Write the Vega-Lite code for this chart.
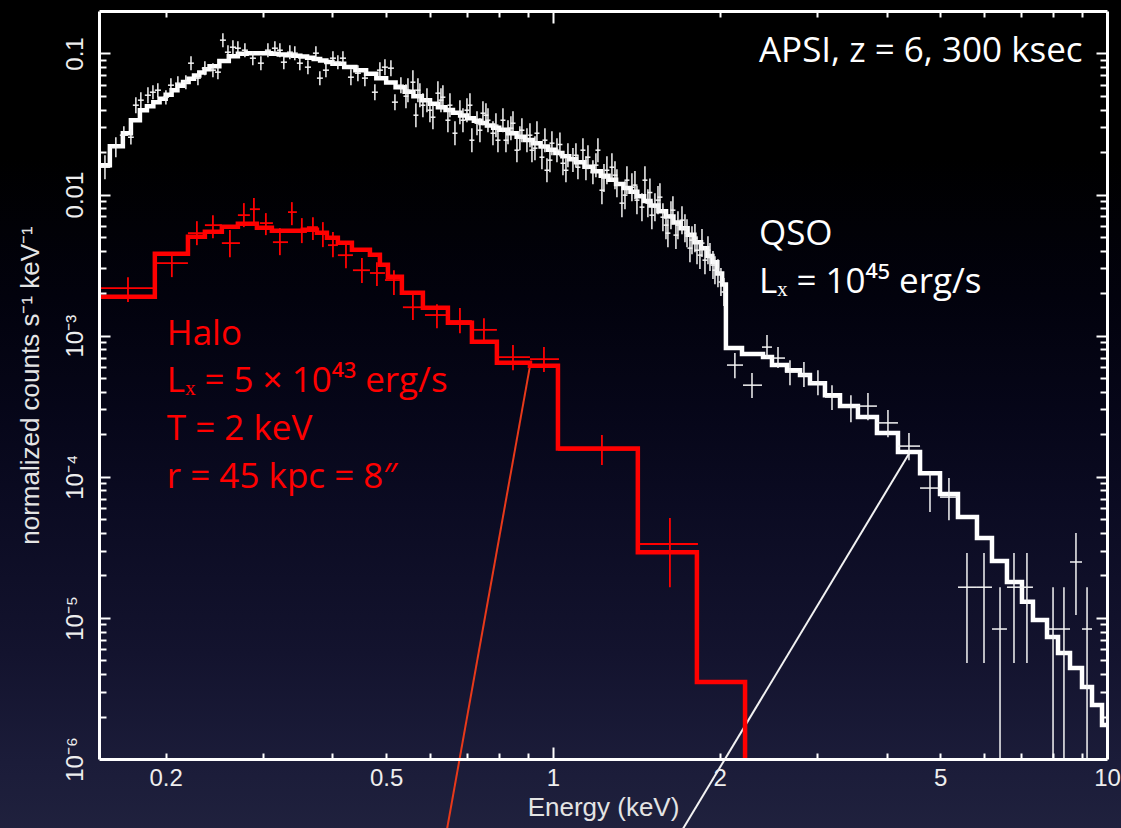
{
"$schema": "https://vega.github.io/schema/vega-lite/v6.json",
"width": 1008, "height": 748,
"autosize": {"type": "none"},
"padding": {"left": 99, "top": 11, "right": 14, "bottom": 69},
"background": "#000000",
"config": {
 "view": {"stroke": null},
 "axis": {"grid": false, "domainColor": "#ffffff", "tickColor": "#ffffff", "labelColor": "#eeeeee", "titleColor": "#e8e8e8", "labelFont": "Liberation Sans", "titleFont": "Liberation Sans", "titleFontWeight": "normal", "labelFontSize": 24, "titleFontSize": 26, "tickWidth": 2, "domainWidth": 3, "labelFlush": false, "labelOverlap": false}
},
"resolve": {"scale": {"x": "shared", "y": "shared"}, "axis": {"x": "independent", "y": "independent"}},
"datasets": {
 "pointers": [
  {"E": 0.9089, "C": 0.000609, "line": "halo"}, {"E": 0.6108, "C": 0.0000001, "line": "halo"},
  {"E": 4.41, "C": 0.00015, "line": "qso"}, {"E": 1.436, "C": 0.0000001, "line": "qso"}
 ],
 "halo_model": [
  {"E":0.15,"C":0.001888},{"E":0.1912,"C":0.003805},{"E":0.2194,"C":0.005018},{"E":0.2354,"C":0.005445},{"E":0.2526,"C":0.005908},{"E":0.27,"C":0.006202},{"E":0.2922,"C":0.005811},{"E":0.311,"C":0.005535},{"E":0.3537,"C":0.005626},{"E":0.375,"C":0.005358},{"E":0.3909,"C":0.004938},{"E":0.4091,"C":0.004552},{"E":0.4337,"C":0.004061},{"E":0.4674,"C":0.003743},{"E":0.4872,"C":0.00318},{"E":0.5037,"C":0.002616},{"E":0.5338,"C":0.002015},{"E":0.5825,"C":0.001578},{"E":0.6463,"C":0.001236},{"E":0.7141,"C":0.000907},{"E":0.7922,"C":0.000644},{"E":0.9089,"C":0.000613},{"E":1.021,"C":0.0001586},{"E":1.423,"C":0.00002917},{"E":1.819,"C":0.000003507},{"E":2.222,"C":0.0000001}
 ],
 "halo_data": [
  {"E":0.171,"C":0.00217,"Elo":0.15,"Ehi":0.1912,"Clo":0.00173,"Chi":0.0026},
  {"E":0.2052,"C":0.00327,"Elo":0.1912,"Ehi":0.2194,"Clo":0.0026,"Chi":0.00372},
  {"E":0.2277,"C":0.00533,"Elo":0.2194,"Ehi":0.2354,"Clo":0.00438,"Chi":0.00648},
  {"E":0.2434,"C":0.00607,"Elo":0.2354,"Ehi":0.2526,"Clo":0.00491,"Chi":0.00715},
  {"E":0.2612,"C":0.00453,"Elo":0.2526,"Ehi":0.2723,"Clo":0.0036,"Chi":0.0056},
  {"E":0.2768,"C":0.00715,"Elo":0.27,"Ehi":0.2838,"Clo":0.00588,"Chi":0.0087},
  {"E":0.2886,"C":0.00788,"Elo":0.2838,"Ehi":0.2959,"Clo":0.00628,"Chi":0.00944},
  {"E":0.3033,"C":0.00628,"Elo":0.2959,"Ehi":0.3123,"Clo":0.00516,"Chi":0.00739},
  {"E":0.3215,"C":0.0046,"Elo":0.3123,"Ehi":0.3325,"Clo":0.00372,"Chi":0.00578},
  {"E":0.3379,"C":0.00751,"Elo":0.3325,"Ehi":0.345,"Clo":0.00607,"Chi":0.00884},
  {"E":0.3522,"C":0.00542,"Elo":0.345,"Ehi":0.3597,"Clo":0.00453,"Chi":0.00681},
  {"E":0.3688,"C":0.00588,"Elo":0.3597,"Ehi":0.3765,"Clo":0.00476,"Chi":0.00692},
  {"E":0.3844,"C":0.00533,"Elo":0.3765,"Ehi":0.3926,"Clo":0.00424,"Chi":0.00638},
  {"E":0.4008,"C":0.00438,"Elo":0.3926,"Ehi":0.4091,"Clo":0.0036,"Chi":0.00542},
  {"E":0.4231,"C":0.00372,"Elo":0.4091,"Ehi":0.4355,"Clo":0.00301,"Chi":0.00453},
  {"E":0.4521,"C":0.00291,"Elo":0.4355,"Ehi":0.4674,"Clo":0.00236,"Chi":0.00355},
  {"E":0.4812,"C":0.00278,"Elo":0.4674,"Ehi":0.4975,"Clo":0.00225,"Chi":0.00332},
  {"E":0.5164,"C":0.00248,"Elo":0.4975,"Ehi":0.5338,"Clo":0.00194,"Chi":0.00291},
  {"E":0.5588,"C":0.00159,"Elo":0.536,"Ehi":0.5825,"Clo":0.00129,"Chi":0.00194},
  {"E":0.6175,"C":0.0014,"Elo":0.5875,"Ehi":0.6463,"Clo":0.00113,"Chi":0.00167},
  {"E":0.6794,"C":0.00127,"Elo":0.6463,"Ehi":0.714,"Clo":0.00104,"Chi":0.00157},
  {"E":0.7507,"C":0.0011,"Elo":0.714,"Ehi":0.7922,"Clo":0.000886,"Chi":0.00133},
  {"E":0.847,"C":0.000705,"Elo":0.7922,"Ehi":0.9089,"Clo":0.00057,"Chi":0.000858},
  {"E":0.9633,"C":0.000682,"Elo":0.9089,"Ehi":1.0253,"Clo":0.000552,"Chi":0.00083},
  {"E":1.2258,"C":0.000155,"Elo":1.021,"Ehi":1.424,"Clo":0.000121,"Chi":0.000198},
  {"E":1.626,"C":0.0000334,"Elo":1.436,"Ehi":1.827,"Clo":0.0000165,"Chi":0.000051}
 ],
 "qso_model": [
  {"E":0.15,"C":0.01617},{"E":0.1586,"C":0.02204},{"E":0.1674,"C":0.02725},{"E":0.1731,"C":0.03368},{"E":0.1797,"C":0.03966},{"E":0.185,"C":0.04232},{"E":0.19,"C":0.04519},{"E":0.195,"C":0.04784},{"E":0.2,"C":0.05106},{"E":0.205,"C":0.05495},{"E":0.21,"C":0.05911},{"E":0.215,"C":0.06291},{"E":0.22,"C":0.06631},{"E":0.225,"C":0.06984},{"E":0.23,"C":0.07345},{"E":0.235,"C":0.07739},{"E":0.24,"C":0.08128},{"E":0.25,"C":0.0885},{"E":0.26,"C":0.09569},{"E":0.27,"C":0.09968},{"E":0.28,"C":0.1005},{"E":0.29,"C":0.1005},{"E":0.3,"C":0.1005},{"E":0.31,"C":0.09968},{"E":0.32,"C":0.09838},{"E":0.33,"C":0.09727},{"E":0.34,"C":0.09632},{"E":0.35,"C":0.09507},{"E":0.36,"C":0.09322},{"E":0.37,"C":0.09142},{"E":0.38,"C":0.0892},{"E":0.39,"C":0.08692},{"E":0.4,"C":0.08465},{"E":0.42,"C":0.0801},{"E":0.44,"C":0.07591},{"E":0.46,"C":0.07193},{"E":0.48,"C":0.06683},{"E":0.5,"C":0.06219},{"E":0.52,"C":0.0577},{"E":0.54,"C":0.05354},{"E":0.56,"C":0.04966},{"E":0.58,"C":0.0466},{"E":0.6,"C":0.04395},{"E":0.62,"C":0.04164},{"E":0.64,"C":0.03978},{"E":0.66,"C":0.038},{"E":0.68,"C":0.03631},{"E":0.7,"C":0.03479},{"E":0.72,"C":0.03341},{"E":0.74,"C":0.03212},{"E":0.76,"C":0.03089},{"E":0.78,"C":0.0298},{"E":0.8,"C":0.02875},{"E":0.83,"C":0.02716},{"E":0.86,"C":0.0257},{"E":0.89,"C":0.02438},{"E":0.92,"C":0.02314},{"E":0.95,"C":0.02189},{"E":0.98,"C":0.02075},{"E":1.01,"C":0.01969},{"E":1.04,"C":0.01873},{"E":1.07,"C":0.01777},{"E":1.1,"C":0.01692},{"E":1.14,"C":0.01572},{"E":1.18,"C":0.01466},{"E":1.22,"C":0.01362},{"E":1.26,"C":0.01272},{"E":1.3,"C":0.01189},{"E":1.34,"C":0.01114},{"E":1.38,"C":0.01047},{"E":1.42,"C":0.009749},{"E":1.46,"C":0.009014},{"E":1.5,"C":0.008361},{"E":1.55,"C":0.007633},{"E":1.6,"C":0.00699},{"E":1.65,"C":0.006347},{"E":1.7,"C":0.005765},{"E":1.75,"C":0.005193},{"E":1.8,"C":0.004603},{"E":1.85,"C":0.00416},{"E":1.9,"C":0.003675},{"E":1.94,"C":0.003321},{"E":1.98,"C":0.002754},{"E":2.02,"C":0.002301},{"E":2.052,"C":0.000817},{"E":2.194,"C":0.000741},{"E":2.394,"C":0.000705},{"E":2.485,"C":0.000619},{"E":2.645,"C":0.00057},{"E":2.792,"C":0.000526},{"E":2.91,"C":0.000461},{"E":3.097,"C":0.000379},{"E":3.297,"C":0.000317},{"E":3.552,"C":0.000265},{"E":3.844,"C":0.000204},{"E":4.195,"C":0.00015},{"E":4.598,"C":0.000106},{"E":4.996,"C":0.0000754},{"E":5.383,"C":0.0000518},{"E":5.825,"C":0.0000368},{"E":6.2,"C":0.0000253},{"E":6.598,"C":0.000018},{"E":7.023,"C":0.000013},{"E":7.351,"C":0.00000966},{"E":7.793,"C":0.00000732},{"E":8.158,"C":0.00000564},{"E":8.575,"C":0.00000441},{"E":9.013,"C":0.00000324},{"E":9.396,"C":0.00000241},{"E":9.795,"C":0.00000174},{"E":10,"C":0.00000174}
 ],
 "qso_data": [
  {"E":0.1554,"C":0.01563,"Elo":0.1516,"Ehi":0.1589,"Clo":0.01285,"Chi":0.01901},
  {"E":0.1626,"C":0.02166,"Elo":0.1593,"Ehi":0.166,"Clo":0.0184,"Chi":0.0255},
  {"E":0.1681,"C":0.02635,"Elo":0.1653,"Ehi":0.171,"Clo":0.02275,"Chi":0.03053},
  {"E":0.1731,"C":0.0255,"Elo":0.171,"Ehi":0.1752,"Clo":0.02264,"Chi":0.02906},
  {"E":0.1767,"C":0.043,"Elo":0.1745,"Ehi":0.1789,"Clo":0.03774,"Chi":0.049},
  {"E":0.1804,"C":0.04667,"Elo":0.1782,"Ehi":0.1826,"Clo":0.04094,"Chi":0.05316},
  {"E":0.1858,"C":0.05062,"Elo":0.1834,"Ehi":0.1881,"Clo":0.04443,"Chi":0.05768},
  {"E":0.1897,"C":0.05316,"Elo":0.1873,"Ehi":0.192,"Clo":0.04742,"Chi":0.0596},
  {"E":0.1936,"C":0.05493,"Elo":0.1912,"Ehi":0.1961,"Clo":0.049,"Chi":0.06158},
  {"E":0.2002,"C":0.049,"Elo":0.1977,"Ehi":0.2027,"Clo":0.0435,"Chi":0.05493},
  {"E":0.2044,"C":0.0596,"Elo":0.2019,"Ehi":0.207,"Clo":0.05316,"Chi":0.06688},
  {"E":0.2104,"C":0.06158,"Elo":0.2079,"Ehi":0.213,"Clo":0.05493,"Chi":0.06903},
  {"E":0.2175,"C":0.06259,"Elo":0.2148,"Ehi":0.2203,"Clo":0.05585,"Chi":0.07017},
  {"E":0.2222,"C":0.08536,"Elo":0.2195,"Ehi":0.2249,"Clo":0.07616,"Chi":0.09569},
  {"E":0.2287,"C":0.06688,"Elo":0.2258,"Ehi":0.2315,"Clo":0.0596,"Chi":0.07491},
  {"E":0.2354,"C":0.07869,"Elo":0.2324,"Ehi":0.2384,"Clo":0.07017,"Chi":0.08819},
  {"E":0.2434,"C":0.07616,"Elo":0.2404,"Ehi":0.2465,"Clo":0.06793,"Chi":0.08536},
  {"E":0.2485,"C":0.07374,"Elo":0.2455,"Ehi":0.2516,"Clo":0.06574,"Chi":0.08262},
  {"E":0.2537,"C":0.1243,"Elo":0.2506,"Ehi":0.2569,"Clo":0.1108,"Chi":0.1393},
  {"E":0.2591,"C":0.1021,"Elo":0.2558,"Ehi":0.2623,"Clo":0.09112,"Chi":0.1145},
  {"E":0.2645,"C":0.1108,"Elo":0.2612,"Ehi":0.2678,"Clo":0.09886,"Chi":0.1243},
  {"E":0.27,"C":0.109,"Elo":0.2667,"Ehi":0.2734,"Clo":0.09727,"Chi":0.1222},
  {"E":0.278,"C":0.1055,"Elo":0.2745,"Ehi":0.2815,"Clo":0.09414,"Chi":0.1183},
  {"E":0.2873,"C":0.09262,"Elo":0.2838,"Ehi":0.291,"Clo":0.08262,"Chi":0.1038},
  {"E":0.2971,"C":0.08536,"Elo":0.2934,"Ehi":0.3008,"Clo":0.07616,"Chi":0.09569},
  {"E":0.3059,"C":0.1055,"Elo":0.3021,"Ehi":0.3097,"Clo":0.09414,"Chi":0.1183},
  {"E":0.3149,"C":0.109,"Elo":0.311,"Ehi":0.3188,"Clo":0.09727,"Chi":0.1222},
  {"E":0.3215,"C":0.1055,"Elo":0.3176,"Ehi":0.3255,"Clo":0.09414,"Chi":0.1183},
  {"E":0.3268,"C":0.08677,"Elo":0.3228,"Ehi":0.3311,"Clo":0.07741,"Chi":0.09727},
  {"E":0.3351,"C":0.1021,"Elo":0.3311,"Ehi":0.3393,"Clo":0.09112,"Chi":0.1145},
  {"E":0.3421,"C":0.1005,"Elo":0.3379,"Ehi":0.3464,"Clo":0.08964,"Chi":0.1127},
  {"E":0.3493,"C":0.08536,"Elo":0.345,"Ehi":0.3538,"Clo":0.07616,"Chi":0.09569},
  {"E":0.3612,"C":0.07999,"Elo":0.3567,"Ehi":0.3658,"Clo":0.07132,"Chi":0.08964},
  {"E":0.3734,"C":0.1005,"Elo":0.3688,"Ehi":0.3781,"Clo":0.08964,"Chi":0.1127},
  {"E":0.3796,"C":0.06688,"Elo":0.375,"Ehi":0.3844,"Clo":0.0596,"Chi":0.07491},
  {"E":0.3893,"C":0.07616,"Elo":0.3844,"Ehi":0.3942,"Clo":0.06793,"Chi":0.08536},
  {"E":0.4008,"C":0.09262,"Elo":0.3958,"Ehi":0.4058,"Clo":0.08262,"Chi":0.1038},
  {"E":0.4091,"C":0.08677,"Elo":0.4041,"Ehi":0.4143,"Clo":0.07741,"Chi":0.09727},
  {"E":0.4178,"C":0.09262,"Elo":0.4126,"Ehi":0.4231,"Clo":0.08262,"Chi":0.1038},
  {"E":0.4319,"C":0.06793,"Elo":0.4266,"Ehi":0.4373,"Clo":0.0596,"Chi":0.07741},
  {"E":0.4446,"C":0.07254,"Elo":0.4391,"Ehi":0.4502,"Clo":0.06363,"Chi":0.08262},
  {"E":0.4577,"C":0.06688,"Elo":0.4521,"Ehi":0.4636,"Clo":0.05866,"Chi":0.07616},
  {"E":0.4771,"C":0.05316,"Elo":0.4712,"Ehi":0.4831,"Clo":0.04667,"Chi":0.06058},
  {"E":0.4872,"C":0.07616,"Elo":0.4812,"Ehi":0.4933,"Clo":0.06688,"Chi":0.08677},
  {"E":0.4975,"C":0.07999,"Elo":0.4913,"Ehi":0.5036,"Clo":0.07017,"Chi":0.09112},
  {"E":0.51,"C":0.07869,"Elo":0.5036,"Ehi":0.5164,"Clo":0.06903,"Chi":0.08964},
  {"E":0.5186,"C":0.04519,"Elo":0.5121,"Ehi":0.5251,"Clo":0.03964,"Chi":0.05149},
  {"E":0.5316,"C":0.0596,"Elo":0.5251,"Ehi":0.5383,"Clo":0.05233,"Chi":0.06793},
  {"E":0.5429,"C":0.04982,"Elo":0.5373,"Ehi":0.5486,"Clo":0.04096,"Chi":0.0606},
  {"E":0.5474,"C":0.05493,"Elo":0.5418,"Ehi":0.5531,"Clo":0.04516,"Chi":0.06682},
  {"E":0.5588,"C":0.06259,"Elo":0.553,"Ehi":0.5647,"Clo":0.05146,"Chi":0.07613},
  {"E":0.5658,"C":0.03652,"Elo":0.56,"Ehi":0.5717,"Clo":0.03002,"Chi":0.04442},
  {"E":0.5706,"C":0.05493,"Elo":0.5647,"Ehi":0.5766,"Clo":0.04516,"Chi":0.06682},
  {"E":0.5753,"C":0.05062,"Elo":0.5694,"Ehi":0.5813,"Clo":0.04161,"Chi":0.06157},
  {"E":0.5825,"C":0.043,"Elo":0.5765,"Ehi":0.5886,"Clo":0.03535,"Chi":0.0523},
  {"E":0.5924,"C":0.04667,"Elo":0.5863,"Ehi":0.5986,"Clo":0.03837,"Chi":0.05677},
  {"E":0.5998,"C":0.03964,"Elo":0.5936,"Ehi":0.6061,"Clo":0.03259,"Chi":0.04822},
  {"E":0.6073,"C":0.03535,"Elo":0.601,"Ehi":0.6137,"Clo":0.02906,"Chi":0.043},
  {"E":0.62,"C":0.05233,"Elo":0.6136,"Ehi":0.6265,"Clo":0.04302,"Chi":0.06365},
  {"E":0.6279,"C":0.04667,"Elo":0.6214,"Ehi":0.6345,"Clo":0.03837,"Chi":0.05677},
  {"E":0.633,"C":0.049,"Elo":0.6265,"Ehi":0.6396,"Clo":0.04028,"Chi":0.0596},
  {"E":0.6463,"C":0.03366,"Elo":0.6396,"Ehi":0.6531,"Clo":0.02767,"Chi":0.04094},
  {"E":0.6518,"C":0.043,"Elo":0.6451,"Ehi":0.6586,"Clo":0.03535,"Chi":0.0523},
  {"E":0.6655,"C":0.02722,"Elo":0.6586,"Ehi":0.6725,"Clo":0.02238,"Chi":0.03311},
  {"E":0.6794,"C":0.03837,"Elo":0.6724,"Ehi":0.6865,"Clo":0.03154,"Chi":0.04667},
  {"E":0.688,"C":0.03366,"Elo":0.6809,"Ehi":0.6952,"Clo":0.02767,"Chi":0.04094},
  {"E":0.6995,"C":0.03964,"Elo":0.6923,"Ehi":0.7068,"Clo":0.03259,"Chi":0.04822},
  {"E":0.7083,"C":0.043,"Elo":0.701,"Ehi":0.7157,"Clo":0.03535,"Chi":0.0523},
  {"E":0.714,"C":0.02429,"Elo":0.7066,"Ehi":0.7215,"Clo":0.01997,"Chi":0.02955},
  {"E":0.7293,"C":0.03205,"Elo":0.7218,"Ehi":0.737,"Clo":0.02635,"Chi":0.03899},
  {"E":0.7383,"C":0.02859,"Elo":0.7307,"Ehi":0.746,"Clo":0.0235,"Chi":0.03478},
  {"E":0.7476,"C":0.03774,"Elo":0.7399,"Ehi":0.7554,"Clo":0.03103,"Chi":0.04591},
  {"E":0.757,"C":0.03652,"Elo":0.7492,"Ehi":0.7649,"Clo":0.03002,"Chi":0.04442},
  {"E":0.7634,"C":0.03366,"Elo":0.7555,"Ehi":0.7714,"Clo":0.02767,"Chi":0.04094},
  {"E":0.7794,"C":0.02722,"Elo":0.7714,"Ehi":0.7876,"Clo":0.02238,"Chi":0.03311},
  {"E":0.7891,"C":0.03105,"Elo":0.781,"Ehi":0.7974,"Clo":0.02553,"Chi":0.03777},
  {"E":0.7957,"C":0.02429,"Elo":0.7875,"Ehi":0.8041,"Clo":0.01997,"Chi":0.02955},
  {"E":0.8124,"C":0.03366,"Elo":0.804,"Ehi":0.8209,"Clo":0.02767,"Chi":0.04094},
  {"E":0.8226,"C":0.02429,"Elo":0.8141,"Ehi":0.8312,"Clo":0.01997,"Chi":0.02955},
  {"E":0.8296,"C":0.02766,"Elo":0.8211,"Ehi":0.8383,"Clo":0.02274,"Chi":0.03365},
  {"E":0.8398,"C":0.02956,"Elo":0.8311,"Ehi":0.8486,"Clo":0.0243,"Chi":0.03596},
  {"E":0.847,"C":0.03205,"Elo":0.8383,"Ehi":0.8559,"Clo":0.02635,"Chi":0.03899},
  {"E":0.861,"C":0.02064,"Elo":0.8521,"Ehi":0.87,"Clo":0.01697,"Chi":0.02511},
  {"E":0.8717,"C":0.02511,"Elo":0.8627,"Ehi":0.8808,"Clo":0.02064,"Chi":0.03054},
  {"E":0.879,"C":0.02859,"Elo":0.8699,"Ehi":0.8882,"Clo":0.0235,"Chi":0.03478},
  {"E":0.8976,"C":0.02429,"Elo":0.8883,"Ehi":0.907,"Clo":0.01997,"Chi":0.02955},
  {"E":0.9089,"C":0.02635,"Elo":0.8995,"Ehi":0.9184,"Clo":0.02166,"Chi":0.03205},
  {"E":0.9165,"C":0.02064,"Elo":0.9071,"Ehi":0.9261,"Clo":0.01697,"Chi":0.02511},
  {"E":0.928,"C":0.02133,"Elo":0.9184,"Ehi":0.9377,"Clo":0.01754,"Chi":0.02595},
  {"E":0.9357,"C":0.02722,"Elo":0.9261,"Ehi":0.9455,"Clo":0.02238,"Chi":0.03311},
  {"E":0.9553,"C":0.0184,"Elo":0.9454,"Ehi":0.9653,"Clo":0.01513,"Chi":0.02238},
  {"E":0.9673,"C":0.02429,"Elo":0.9573,"Ehi":0.9775,"Clo":0.01997,"Chi":0.02955},
  {"E":0.9754,"C":0.01488,"Elo":0.9653,"Ehi":0.9856,"Clo":0.01223,"Chi":0.0181},
  {"E":0.9876,"C":0.01754,"Elo":0.9774,"Ehi":0.998,"Clo":0.01442,"Chi":0.02134},
  {"E":0.9958,"C":0.02314,"Elo":0.9855,"Ehi":1.0063,"Clo":0.01902,"Chi":0.02815},
  {"E":1.0168,"C":0.02064,"Elo":1.0063,"Ehi":1.0275,"Clo":0.01697,"Chi":0.02511},
  {"E":1.0295,"C":0.02264,"Elo":1.0189,"Ehi":1.0403,"Clo":0.01861,"Chi":0.02754},
  {"E":1.0425,"C":0.01668,"Elo":1.0317,"Ehi":1.0534,"Clo":0.01371,"Chi":0.02029},
  {"E":1.0555,"C":0.01488,"Elo":1.0446,"Ehi":1.0666,"Clo":0.01223,"Chi":0.0181},
  {"E":1.0643,"C":0.01901,"Elo":1.0533,"Ehi":1.0755,"Clo":0.01563,"Chi":0.02312},
  {"E":1.0867,"C":0.01755,"Elo":1.0755,"Ehi":1.0981,"Clo":0.01443,"Chi":0.02135},
  {"E":1.1003,"C":0.01901,"Elo":1.089,"Ehi":1.1119,"Clo":0.01563,"Chi":0.02312},
  {"E":1.1095,"C":0.01563,"Elo":1.0981,"Ehi":1.1211,"Clo":0.01285,"Chi":0.01901},
  {"E":1.1328,"C":0.02064,"Elo":1.1211,"Ehi":1.1447,"Clo":0.01697,"Chi":0.02511},
  {"E":1.147,"C":0.0154,"Elo":1.1352,"Ehi":1.159,"Clo":0.01266,"Chi":0.01873},
  {"E":1.1566,"C":0.0184,"Elo":1.1447,"Ehi":1.1687,"Clo":0.01513,"Chi":0.02238},
  {"E":1.1808,"C":0.01441,"Elo":1.1686,"Ehi":1.1932,"Clo":0.01185,"Chi":0.01753},
  {"E":1.1956,"C":0.01616,"Elo":1.1833,"Ehi":1.2082,"Clo":0.01328,"Chi":0.01966},
  {"E":1.2056,"C":0.02064,"Elo":1.1932,"Ehi":1.2183,"Clo":0.01697,"Chi":0.02511},
  {"E":1.2258,"C":0.01074,"Elo":1.2132,"Ehi":1.2387,"Clo":0.008546,"Chi":0.0135},
  {"E":1.2362,"C":0.01308,"Elo":1.2235,"Ehi":1.2492,"Clo":0.01041,"Chi":0.01644},
  {"E":1.2515,"C":0.01488,"Elo":1.2386,"Ehi":1.2646,"Clo":0.01184,"Chi":0.0187},
  {"E":1.2778,"C":0.01563,"Elo":1.2646,"Ehi":1.2912,"Clo":0.01244,"Chi":0.01964},
  {"E":1.2941,"C":0.01373,"Elo":1.2808,"Ehi":1.3077,"Clo":0.01092,"Chi":0.01726},
  {"E":1.3046,"C":0.01201,"Elo":1.2912,"Ehi":1.3183,"Clo":0.009556,"Chi":0.01509},
  {"E":1.332,"C":0.008697,"Elo":1.3183,"Ehi":1.346,"Clo":0.00692,"Chi":0.01093},
  {"E":1.349,"C":0.009909,"Elo":1.3351,"Ehi":1.3632,"Clo":0.007885,"Chi":0.01245},
  {"E":1.36,"C":0.01265,"Elo":1.346,"Ehi":1.3743,"Clo":0.01007,"Chi":0.0159},
  {"E":1.3886,"C":0.01128,"Elo":1.3743,"Ehi":1.4032,"Clo":0.008976,"Chi":0.01418},
  {"E":1.4061,"C":0.01167,"Elo":1.3916,"Ehi":1.4209,"Clo":0.009286,"Chi":0.01467},
  {"E":1.4178,"C":0.009133,"Elo":1.4032,"Ehi":1.4327,"Clo":0.007267,"Chi":0.01148},
  {"E":1.4476,"C":0.008147,"Elo":1.4327,"Ehi":1.4628,"Clo":0.006483,"Chi":0.01024},
  {"E":1.4657,"C":0.01265,"Elo":1.4506,"Ehi":1.4811,"Clo":0.01007,"Chi":0.0159},
  {"E":1.4838,"C":0.008697,"Elo":1.4685,"Ehi":1.4994,"Clo":0.00692,"Chi":0.01093},
  {"E":1.4964,"C":0.01034,"Elo":1.481,"Ehi":1.5121,"Clo":0.008228,"Chi":0.013},
  {"E":1.5086,"C":0.007147,"Elo":1.4931,"Ehi":1.5244,"Clo":0.005687,"Chi":0.008982},
  {"E":1.5279,"C":0.008147,"Elo":1.5121,"Ehi":1.5439,"Clo":0.006483,"Chi":0.01024},
  {"E":1.5473,"C":0.009133,"Elo":1.5314,"Ehi":1.5635,"Clo":0.007267,"Chi":0.01148},
  {"E":1.56,"C":0.009591,"Elo":1.5439,"Ehi":1.5764,"Clo":0.007632,"Chi":0.01205},
  {"E":1.5795,"C":0.006919,"Elo":1.5632,"Ehi":1.5961,"Clo":0.005506,"Chi":0.008696},
  {"E":1.5996,"C":0.006074,"Elo":1.5831,"Ehi":1.6164,"Clo":0.004833,"Chi":0.007634},
  {"E":1.6126,"C":0.00533,"Elo":1.596,"Ehi":1.6295,"Clo":0.004241,"Chi":0.006699},
  {"E":1.6331,"C":0.007147,"Elo":1.6163,"Ehi":1.6502,"Clo":0.005687,"Chi":0.008982},
  {"E":1.6465,"C":0.007757,"Elo":1.6295,"Ehi":1.6638,"Clo":0.006172,"Chi":0.009749},
  {"E":1.6672,"C":0.005161,"Elo":1.65,"Ehi":1.6847,"Clo":0.004107,"Chi":0.006486},
  {"E":1.6812,"C":0.006074,"Elo":1.6639,"Ehi":1.6989,"Clo":0.004833,"Chi":0.007634},
  {"E":1.7096,"C":0.006589,"Elo":1.692,"Ehi":1.7275,"Clo":0.005243,"Chi":0.008281},
  {"E":1.7309,"C":0.005784,"Elo":1.7131,"Ehi":1.7491,"Clo":0.004602,"Chi":0.007269},
  {"E":1.7456,"C":0.00533,"Elo":1.7276,"Ehi":1.7639,"Clo":0.004241,"Chi":0.006699},
  {"E":1.7672,"C":0.004174,"Elo":1.749,"Ehi":1.7858,"Clo":0.003321,"Chi":0.005246},
  {"E":1.7822,"C":0.004753,"Elo":1.7638,"Ehi":1.8009,"Clo":0.003782,"Chi":0.005974},
  {"E":1.8042,"C":0.004913,"Elo":1.7856,"Ehi":1.8231,"Clo":0.003909,"Chi":0.006175},
  {"E":1.8197,"C":0.004036,"Elo":1.801,"Ehi":1.8388,"Clo":0.003211,"Chi":0.005072},
  {"E":1.8421,"C":0.003724,"Elo":1.8231,"Ehi":1.8614,"Clo":0.002963,"Chi":0.00468},
  {"E":1.8578,"C":0.00453,"Elo":1.8387,"Ehi":1.8773,"Clo":0.003605,"Chi":0.005693},
  {"E":1.881,"C":0.00343,"Elo":1.8616,"Ehi":1.9007,"Clo":0.002729,"Chi":0.004311},
  {"E":1.9045,"C":0.004036,"Elo":1.8849,"Ehi":1.9245,"Clo":0.003211,"Chi":0.005072},
  {"E":1.9205,"C":0.003604,"Elo":1.9007,"Ehi":1.9407,"Clo":0.002868,"Chi":0.00453},
  {"E":1.9446,"C":0.003163,"Elo":1.9245,"Ehi":1.965,"Clo":0.002517,"Chi":0.003975},
  {"E":1.9607,"C":0.002912,"Elo":1.9405,"Ehi":1.9813,"Clo":0.002317,"Chi":0.00366},
  {"E":1.9853,"C":0.002774,"Elo":1.9649,"Ehi":2.0061,"Clo":0.002207,"Chi":0.003486},
  {"E":2.0101,"C":0.002401,"Elo":1.9894,"Ehi":2.0312,"Clo":0.00191,"Chi":0.003018},
  {"E":2.0352,"C":0.00204,"Elo":2.0142,"Ehi":2.0566,"Clo":0.001623,"Chi":0.002564},
  {"E":2.13,"C":0.000619,"Elo":2.061,"Ehi":2.203,"Clo":0.0005,"Chi":0.000753},
  {"E":2.287,"C":0.000446,"Elo":2.203,"Ehi":2.384,"Clo":0.000362,"Chi":0.000543},
  {"E":2.434,"C":0.00083,"Elo":2.384,"Ehi":2.485,"Clo":0.000694,"Chi":0.00101},
  {"E":2.548,"C":0.000694,"Elo":2.485,"Ehi":2.623,"Clo":0.000589,"Chi":0.00083},
  {"E":2.678,"C":0.000552,"Elo":2.623,"Ehi":2.792,"Clo":0.000446,"Chi":0.000671},
  {"E":2.838,"C":0.000526,"Elo":2.792,"Ehi":2.91,"Clo":0.000432,"Chi":0.00065},
  {"E":3.008,"C":0.000469,"Elo":2.91,"Ehi":3.097,"Clo":0.000379,"Chi":0.00057},
  {"E":3.189,"C":0.000367,"Elo":3.097,"Ehi":3.297,"Clo":0.000297,"Chi":0.000446},
  {"E":3.45,"C":0.000312,"Elo":3.297,"Ehi":3.552,"Clo":0.000244,"Chi":0.000379},
  {"E":3.703,"C":0.000317,"Elo":3.552,"Ehi":3.844,"Clo":0.000252,"Chi":0.000392},
  {"E":4.024,"C":0.000241,"Elo":3.844,"Ehi":4.195,"Clo":0.000191,"Chi":0.000297},
  {"E":4.391,"C":0.000165,"Elo":4.195,"Ehi":4.598,"Clo":0.000131,"Chi":0.000204},
  {"E":4.792,"C":0.0000832,"Elo":4.598,"Ehi":4.996,"Clo":0.0000563,"Chi":0.000106},
  {"E":5.185,"C":0.0000718,"Elo":4.996,"Ehi":5.383,"Clo":0.0000493,"Chi":0.0000979},
  {"E":5.588,"C":0.0000165,"Elo":5.383,"Ehi":5.825,"Clo":0.00000479,"Chi":0.0000288},
  {"E":5.998,"C":0.0000165,"Elo":5.825,"Ehi":6.2,"Clo":0.00000479,"Chi":0.0000288},
  {"E":6.411,"C":0.00000834,"Elo":6.2,"Ehi":6.598,"Clo":0.0000001,"Chi":0.0000165},
  {"E":6.794,"C":0.0000165,"Elo":6.598,"Ehi":7.023,"Clo":0.00000479,"Chi":0.0000288},
  {"E":7.17,"C":0.0000165,"Elo":7.023,"Ehi":7.351,"Clo":0.00000479,"Chi":0.0000288},
  {"E":7.991,"C":0.00000834,"Elo":7.793,"Ehi":8.158,"Clo":0.0000001,"Chi":0.0000165},
  {"E":8.362,"C":0.00000834,"Elo":8.158,"Ehi":8.575,"Clo":0.0000001,"Chi":0.0000165},
  {"E":8.79,"C":0.0000249,"Elo":8.575,"Ehi":9.013,"Clo":0.0000105,"Chi":0.0000399},
  {"E":9.204,"C":0.00000834,"Elo":9.013,"Ehi":9.396,"Clo":0.0000001,"Chi":0.0000165}
 ]
},
"layer": [
 {"data": {"values": [{}]},
  "mark": {"type": "rect", "clip": false, "fill": {"gradient": "linear", "x1": 0, "y1": 0, "x2": 0, "y2": 1, "stops": [
    {"offset": 0, "color": "#000000"}, {"offset": 0.25, "color": "#000000"}, {"offset": 0.39, "color": "#02020d"}, {"offset": 0.5, "color": "#060618"}, {"offset": 0.6, "color": "#0b0b22"}, {"offset": 0.75, "color": "#13132e"}, {"offset": 0.86, "color": "#1b1c39"}, {"offset": 1, "color": "#242642"}]}},
  "encoding": {
   "x": {"datum": 0.05, "type": "quantitative", "scale": {"type": "log", "domain": [0.1516, 10], "nice": false}, "axis": null},
   "x2": {"datum": 20},
   "y": {"datum": 0.0000001, "type": "quantitative", "scale": {"type": "log", "domain": [0.000001, 0.2], "nice": false}, "axis": null},
   "y2": {"datum": 1}
  }},
 {"data": {"name": "pointers"},
  "mark": {"type": "line", "clip": false, "strokeWidth": 2},
  "encoding": {
   "x": {"field": "E", "type": "quantitative", "scale": {"type": "log", "domain": [0.1516, 10], "nice": false}, "axis": null},
   "y": {"field": "C", "type": "quantitative", "scale": {"type": "log", "domain": [0.000001, 0.2], "nice": false}, "axis": null},
   "color": {"field": "line", "type": "nominal", "scale": {"domain": ["halo", "qso"], "range": ["#e8391a", "#f2f2f2"]}, "legend": null}
  }},
 {"data": {"name": "halo_model"},
  "mark": {"type": "line", "interpolate": "step-after", "clip": true, "color": "#ff0000", "strokeWidth": 4.5},
  "encoding": {
   "x": {"field": "E", "type": "quantitative", "scale": {"type": "log", "domain": [0.1516, 10], "nice": false},
         "axis": {"orient": "top", "domain": true, "domainWidth": 3, "ticks": false, "labels": false, "title": null, "values": [1], "zindex": 1}},
   "y": {"field": "C", "type": "quantitative", "scale": {"type": "log", "domain": [0.000001, 0.2], "nice": false},
         "axis": {"orient": "right", "domain": true, "domainWidth": 3, "ticks": false, "labels": false, "title": null, "values": [0.1], "zindex": 1}}
  }},
 {"data": {"name": "halo_data"},
  "mark": {"type": "rule", "clip": true, "color": "#ff0000", "strokeWidth": 1.8},
  "encoding": {
   "x": {"field": "E", "type": "quantitative", "scale": {"type": "log", "domain": [0.1516, 10], "nice": false},
         "axis": {"orient": "bottom", "values": [1], "labels": false, "domain": false, "ticks": true, "tickSize": 12, "offset": -12, "title": null, "zindex": 1}},
   "y": {"field": "Clo", "type": "quantitative", "scale": {"type": "log", "domain": [0.000001, 0.2], "nice": false},
         "axis": {"orient": "left", "values": [0.00001, 0.0001, 0.001, 0.01, 0.1], "labels": false, "domain": false, "ticks": true, "tickSize": 11, "offset": -11, "title": null, "zindex": 1}},
   "y2": {"field": "Chi"}
  }},
 {"data": {"name": "halo_data"},
  "mark": {"type": "rule", "clip": true, "color": "#ff0000", "strokeWidth": 1.8},
  "encoding": {
   "x": {"field": "Elo", "type": "quantitative", "scale": {"type": "log", "domain": [0.1516, 10], "nice": false},
         "axis": {"orient": "top", "values": [1], "labels": false, "domain": false, "ticks": true, "tickSize": 12, "offset": -12, "title": null, "zindex": 1}},
   "x2": {"field": "Ehi"},
   "y": {"field": "C", "type": "quantitative", "scale": {"type": "log", "domain": [0.000001, 0.2], "nice": false},
         "axis": {"orient": "right", "values": [0.00001, 0.0001, 0.001, 0.01, 0.1], "labels": false, "domain": false, "ticks": true, "tickSize": 11, "offset": -11, "title": null, "zindex": 1}}
  }},
 {"data": {"name": "qso_model"},
  "mark": {"type": "line", "interpolate": "step-after", "clip": true, "color": "#ffffff", "strokeWidth": 4.5},
  "encoding": {
   "x": {"field": "E", "type": "quantitative", "scale": {"type": "log", "domain": [0.1516, 10], "nice": false},
         "axis": {"orient": "bottom", "values": [0.2, 0.5, 1, 2, 5, 10], "format": "~g", "ticks": false, "tickSize": 0, "domain": true, "domainWidth": 3,
                  "labelFont": "Liberation Sans", "labelFontSize": 24, "labelColor": "#eeeeee", "labelPadding": 7,
                  "title": "Energy (keV)", "titleFont": "Liberation Sans", "titleFontSize": 26, "titleFontWeight": "normal", "titleColor": "#e4e4e4", "titlePadding": 4, "zindex": 1}},
   "y": {"field": "C", "type": "quantitative", "scale": {"type": "log", "domain": [0.000001, 0.2], "nice": false},
         "axis": {"orient": "left", "values": [0.000001, 0.00001, 0.0001, 0.001, 0.01, 0.1], "ticks": false, "tickSize": 0, "domain": true, "domainWidth": 3,
                  "labelExpr": "datum.value > 0.05 ? '0.1' : datum.value > 0.005 ? '0.01' : datum.value > 0.0005 ? '10⁻³' : datum.value > 0.00005 ? '10⁻⁴' : datum.value > 0.000005 ? '10⁻⁵' : '10⁻⁶'",
                  "labelFont": "Liberation Sans", "labelFontSize": 24, "labelColor": "#eeeeee",
                  "labelAngle": -90, "labelAlign": "center", "labelBaseline": "alphabetic", "labelPadding": 17,
                  "title": "normalized counts s⁻¹ keV⁻¹", "titleFont": "Liberation Sans", "titleFontSize": 26, "titleFontWeight": "normal", "titleColor": "#e4e4e4", "titlePadding": 20, "zindex": 1}}
  }},
 {"data": {"name": "qso_data"},
  "mark": {"type": "rule", "clip": true, "color": "#f4f4f4", "strokeWidth": 1.5},
  "encoding": {
   "x": {"field": "E", "type": "quantitative", "scale": {"type": "log", "domain": [0.1516, 10], "nice": false},
         "axis": {"orient": "bottom", "values": [0.2, 0.3, 0.4, 0.5, 0.6, 0.7, 0.8, 0.9, 2, 3, 4, 5, 6, 7, 8, 9], "labels": false, "domain": false, "ticks": true, "tickSize": 6, "offset": -6, "title": null, "zindex": 1}},
   "y": {"field": "Clo", "type": "quantitative", "scale": {"type": "log", "domain": [0.000001, 0.2], "nice": false},
         "axis": {"orient": "left", "values": [0.000002, 0.000003, 0.000004, 0.000005, 0.000006, 0.000007, 0.000008, 0.000009, 0.00002, 0.00003, 0.00004, 0.00005, 0.00006, 0.00007, 0.00008, 0.00009, 0.0002, 0.0003, 0.0004, 0.0005, 0.0006, 0.0007, 0.0008, 0.0009, 0.002, 0.003, 0.004, 0.005, 0.006, 0.007, 0.008, 0.009, 0.02, 0.03, 0.04, 0.05, 0.06, 0.07, 0.08, 0.09], "labels": false, "domain": false, "ticks": true, "tickSize": 7, "offset": -7, "title": null, "zindex": 1}},
   "y2": {"field": "Chi"}
  }},
 {"data": {"name": "qso_data"},
  "mark": {"type": "rule", "clip": true, "color": "#f4f4f4", "strokeWidth": 1.5},
  "encoding": {
   "x": {"field": "Elo", "type": "quantitative", "scale": {"type": "log", "domain": [0.1516, 10], "nice": false},
         "axis": {"orient": "top", "values": [0.2, 0.3, 0.4, 0.5, 0.6, 0.7, 0.8, 0.9, 2, 3, 4, 5, 6, 7, 8, 9], "labels": false, "domain": false, "ticks": true, "tickSize": 6, "offset": -6, "title": null, "zindex": 1}},
   "x2": {"field": "Ehi"},
   "y": {"field": "C", "type": "quantitative", "scale": {"type": "log", "domain": [0.000001, 0.2], "nice": false},
         "axis": {"orient": "right", "values": [0.000002, 0.000003, 0.000004, 0.000005, 0.000006, 0.000007, 0.000008, 0.000009, 0.00002, 0.00003, 0.00004, 0.00005, 0.00006, 0.00007, 0.00008, 0.00009, 0.0002, 0.0003, 0.0004, 0.0005, 0.0006, 0.0007, 0.0008, 0.0009, 0.002, 0.003, 0.004, 0.005, 0.006, 0.007, 0.008, 0.009, 0.02, 0.03, 0.04, 0.05, 0.06, 0.07, 0.08, 0.09], "labels": false, "domain": false, "ticks": true, "tickSize": 7, "offset": -7, "title": null, "zindex": 1}}
  }},
 {"data": {"values": [{}]},
  "mark": {"type": "text", "text": "APSI, z = 6, 300 ksec", "font": "Open Sans", "fontSize": 35, "color": "#ffffff", "align": "left", "baseline": "alphabetic", "clip": false},
  "encoding": {"x": {"datum": 2.354, "type": "quantitative", "scale": {"type": "log", "domain": [0.1516, 10], "nice": false}, "axis": null},
               "y": {"datum": 0.08677, "type": "quantitative", "scale": {"type": "log", "domain": [0.000001, 0.2], "nice": false}, "axis": null}}},
 {"data": {"values": [{}]},
  "mark": {"type": "text", "text": "QSO", "font": "Open Sans", "fontSize": 35, "color": "#ffffff", "align": "left", "baseline": "alphabetic", "clip": false},
  "encoding": {"x": {"datum": 2.354, "type": "quantitative", "scale": {"type": "log", "domain": [0.1516, 10], "nice": false}, "axis": null},
               "y": {"datum": 0.00438, "type": "quantitative", "scale": {"type": "log", "domain": [0.000001, 0.2], "nice": false}, "axis": null}}},
 {"data": {"values": [{}]},
  "mark": {"type": "text", "text": "Lₓ = 10⁴⁵ erg/s", "font": "Open Sans", "fontSize": 35, "color": "#ffffff", "align": "left", "baseline": "alphabetic", "clip": false},
  "encoding": {"x": {"datum": 2.354, "type": "quantitative", "scale": {"type": "log", "domain": [0.1516, 10], "nice": false}, "axis": null},
               "y": {"datum": 0.002, "type": "quantitative", "scale": {"type": "log", "domain": [0.000001, 0.2], "nice": false}, "axis": null}}},
 {"data": {"values": [{}]},
  "mark": {"type": "text", "text": "Halo", "font": "Open Sans", "fontSize": 35, "color": "#ff0000", "align": "left", "baseline": "alphabetic", "clip": false},
  "encoding": {"x": {"datum": 0.201, "type": "quantitative", "scale": {"type": "log", "domain": [0.1516, 10], "nice": false}, "axis": null},
               "y": {"datum": 0.000858, "type": "quantitative", "scale": {"type": "log", "domain": [0.000001, 0.2], "nice": false}, "axis": null}}},
 {"data": {"values": [{}]},
  "mark": {"type": "text", "text": "Lₓ = 5 × 10⁴³ erg/s", "font": "Open Sans", "fontSize": 35, "color": "#ff0000", "align": "left", "baseline": "alphabetic", "clip": false},
  "encoding": {"x": {"datum": 0.201, "type": "quantitative", "scale": {"type": "log", "domain": [0.1516, 10], "nice": false}, "axis": null},
               "y": {"datum": 0.000398, "type": "quantitative", "scale": {"type": "log", "domain": [0.000001, 0.2], "nice": false}, "axis": null}}},
 {"data": {"values": [{}]},
  "mark": {"type": "text", "text": "T = 2 keV", "font": "Open Sans", "fontSize": 35, "color": "#ff0000", "align": "left", "baseline": "alphabetic", "clip": false},
  "encoding": {"x": {"datum": 0.201, "type": "quantitative", "scale": {"type": "log", "domain": [0.1516, 10], "nice": false}, "axis": null},
               "y": {"datum": 0.000182, "type": "quantitative", "scale": {"type": "log", "domain": [0.000001, 0.2], "nice": false}, "axis": null}}},
 {"data": {"values": [{}]},
  "mark": {"type": "text", "text": "r = 45 kpc = 8″", "font": "Open Sans", "fontSize": 35, "color": "#ff0000", "align": "left", "baseline": "alphabetic", "clip": false},
  "encoding": {"x": {"datum": 0.201, "type": "quantitative", "scale": {"type": "log", "domain": [0.1516, 10], "nice": false}, "axis": null},
               "y": {"datum": 0.0000832, "type": "quantitative", "scale": {"type": "log", "domain": [0.000001, 0.2], "nice": false}, "axis": null}}}
]
}
